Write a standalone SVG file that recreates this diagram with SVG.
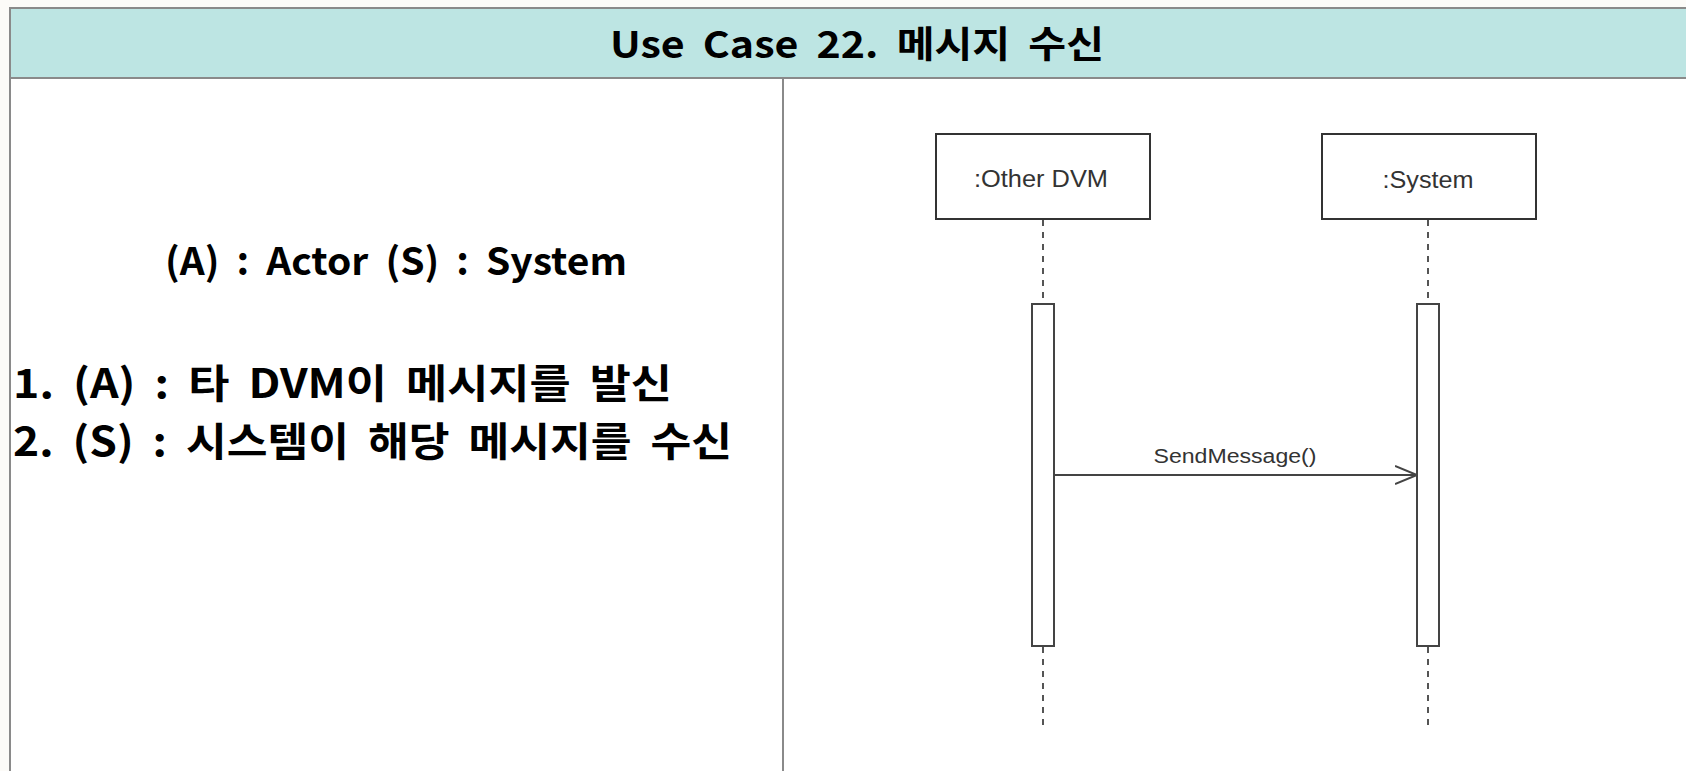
<svg xmlns="http://www.w3.org/2000/svg" width="1686" height="771" viewBox="0 0 1686 771">
<style>
.kr{font-family:"Malgun Gothic","Noto Sans CJK KR",sans-serif;font-weight:bold;fill:#000;word-spacing:8px}
.lbl{font-family:"Liberation Sans",Arial,sans-serif;fill:#333}
.box{fill:#fff;stroke:#333;stroke-width:2}
.act{fill:#fff;stroke:#444;stroke-width:2}
.life{stroke:#555;stroke-width:2;stroke-dasharray:6 6;fill:none}
.grid{stroke:#8a8a8a;stroke-width:2;fill:none}
</style>
<defs>
<marker id="open" markerWidth="24" markerHeight="22" refX="22" refY="10" orient="auto" markerUnits="userSpaceOnUse">
<polyline points="0,1 22,10 0,19" fill="none" stroke="#444" stroke-width="2"/>
</marker>
</defs>
<rect x="0" y="0" width="1686" height="771" fill="#fcfbf8"/>
<rect x="10" y="78" width="1676" height="693" fill="#fff"/>
<g id="table">
<rect x="10" y="8" width="1680" height="70" fill="#bde5e3" stroke="#8a8a8a" stroke-width="2"/>
<line class="grid" x1="10" y1="78" x2="10" y2="771"/>
<line class="grid" x1="783" y1="78" x2="783" y2="771"/>
<text class="kr" x="610" y="58" font-size="37" textLength="494" lengthAdjust="spacingAndGlyphs">Use Case 22. 메시지 수신</text>
</g>
<g id="description">
<text class="kr" x="165" y="275" font-size="38" textLength="462" lengthAdjust="spacingAndGlyphs">(A) : Actor (S) : System</text>
<text class="kr" x="13" y="398" font-size="40" textLength="659" lengthAdjust="spacingAndGlyphs">1. (A) : 타 DVM이 메시지를 발신</text>
<text class="kr" x="13" y="456" font-size="40" textLength="719" lengthAdjust="spacingAndGlyphs">2. (S) : 시스템이 해당 메시지를 수신</text>
</g>
<g id="connectors">
<line class="life" x1="1043" y1="220" x2="1043" y2="304"/>
<line class="life" x1="1043" y1="647" x2="1043" y2="727"/>
<line class="life" x1="1428" y1="220" x2="1428" y2="304"/>
<line class="life" x1="1428" y1="647" x2="1428" y2="727"/>
<line x1="1054" y1="475" x2="1417" y2="475" stroke="#444" stroke-width="2" marker-end="url(#open)"/>
<text class="lbl" x="1235" y="463" font-size="20" text-anchor="middle" textLength="163" lengthAdjust="spacingAndGlyphs">SendMessage()</text>
</g>
<g id="other-dvm">
<rect class="box" x="936" y="134" width="214" height="85"/>
<text class="lbl" x="1041" y="187" font-size="23" text-anchor="middle" textLength="134" lengthAdjust="spacingAndGlyphs">:Other DVM</text>
<rect class="act" x="1032" y="304" width="22" height="342"/>
</g>
<g id="system">
<rect class="box" x="1322" y="134" width="214" height="85"/>
<text class="lbl" x="1428" y="188" font-size="23" text-anchor="middle" textLength="91" lengthAdjust="spacingAndGlyphs">:System</text>
<rect class="act" x="1417" y="304" width="22" height="342"/>
</g>
</svg>
